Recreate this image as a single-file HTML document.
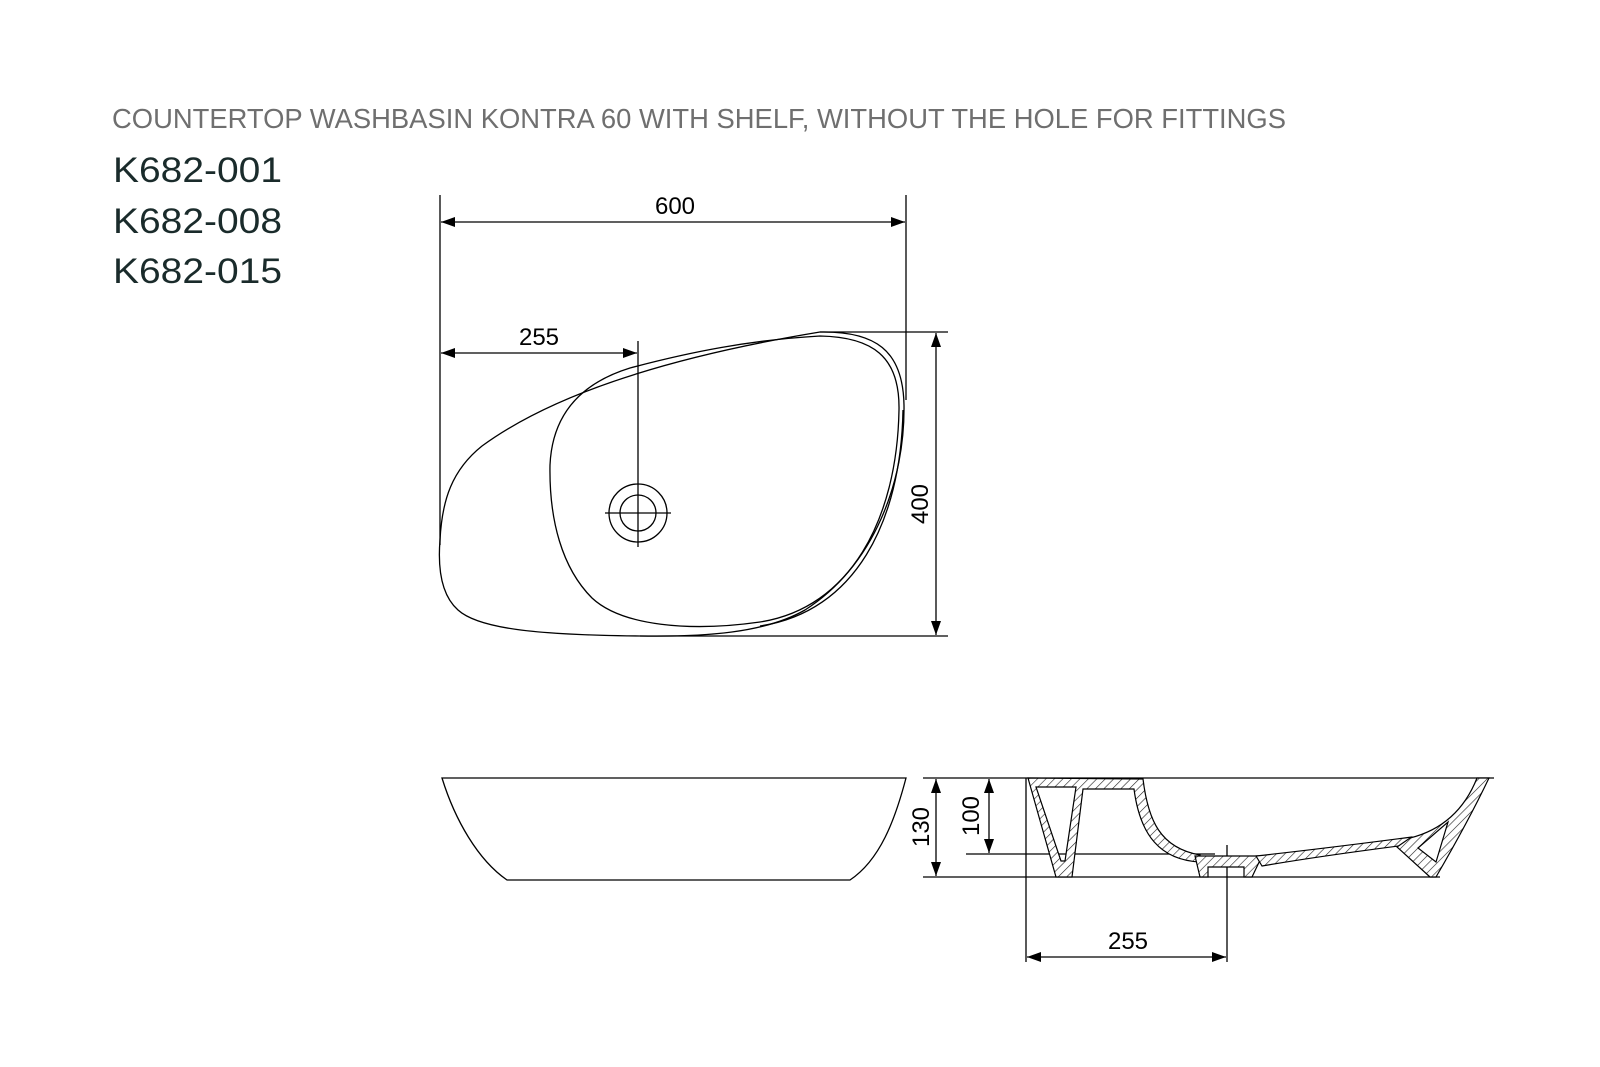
<!DOCTYPE html>
<html><head><meta charset="utf-8"><style>
html,body{margin:0;padding:0;background:#fff}
svg{display:block}
</style></head><body>
<svg width="1600" height="1067" viewBox="0 0 1600 1067" xmlns="http://www.w3.org/2000/svg">
<defs>
<pattern id="h" patternUnits="userSpaceOnUse" width="6" height="6" patternTransform="rotate(45)">
<rect width="6" height="6" fill="#fff"/><line x1="0" y1="0" x2="0" y2="6" stroke="#222" stroke-width="1.2"/>
</pattern>
<marker id="a" viewBox="0 0 14 10" refX="14" refY="5" markerWidth="14" markerHeight="10" markerUnits="userSpaceOnUse" orient="auto-start-reverse">
<path d="M0,0 L14,5 L0,10 Z" fill="#000"/></marker>
</defs>
<text x="112" y="128" font-family="Liberation Sans, sans-serif" font-size="28" fill="#6f6f6f" textLength="1174" lengthAdjust="spacingAndGlyphs">COUNTERTOP WASHBASIN KONTRA 60 WITH SHELF, WITHOUT THE HOLE FOR FITTINGS</text>
<g font-family="Liberation Sans, sans-serif" font-size="35" fill="#1a2b2b">
<text x="113" y="182" textLength="169" lengthAdjust="spacingAndGlyphs">K682-001</text>
<text x="113" y="233" textLength="169" lengthAdjust="spacingAndGlyphs">K682-008</text>
<text x="113" y="283" textLength="169" lengthAdjust="spacingAndGlyphs">K682-015</text>
</g>
<g stroke="#000" stroke-width="1.3" fill="none">
<line x1="440" y1="195" x2="440" y2="545"/>
<line x1="906" y1="195" x2="906" y2="400"/>
<line x1="441" y1="222" x2="905" y2="222" marker-start="url(#a)" marker-end="url(#a)"/>
<line x1="441" y1="353" x2="637" y2="353" marker-start="url(#a)" marker-end="url(#a)"/>
<line x1="638" y1="341" x2="638" y2="547"/>
<line x1="820" y1="332" x2="948" y2="332"/>
<line x1="640" y1="636" x2="948" y2="636"/>
<line x1="936" y1="333" x2="936" y2="635" marker-start="url(#a)" marker-end="url(#a)"/>
<path d="M820,332 C875,331 903,350 904,405 C905,480 875,565 805,610 C765,633 705,637 640,636 C545,635 480,630 458,610 C440,594 438,565 440,540 C442,500 452,470 482,446 C545,400 650,360 820,332 Z"/>
<path d="M630,368 C575,385 552,420 550,465 C549,520 562,568 592,598 C622,626 690,632 760,622 C850,608 897,520 899,410 C900,356 872,337 820,336 C750,340 690,352 630,368"/>
<path d="M760,626 C855,612 901,522 903,410"/>
<circle cx="638" cy="513" r="29"/>
<circle cx="638" cy="513" r="18"/>
<line x1="605" y1="513" x2="671" y2="513"/>
<path d="M442,778 L906,778 C895,820 880,860 850,880 L507,880 C478,860 455,820 442,778 Z"/>
<line x1="923" y1="778" x2="1494" y2="778"/>
<line x1="923" y1="877" x2="1440" y2="877"/>
<line x1="966" y1="854" x2="1215" y2="854"/>
<line x1="936" y1="779" x2="936" y2="876" marker-start="url(#a)" marker-end="url(#a)"/>
<line x1="989" y1="779" x2="989" y2="853" marker-start="url(#a)" marker-end="url(#a)"/>
<line x1="1026" y1="778" x2="1026" y2="962"/>
<line x1="1227" y1="845" x2="1227" y2="962"/>
<line x1="1027" y1="957" x2="1226" y2="957" marker-start="url(#a)" marker-end="url(#a)"/>
</g>
<g stroke="#000" stroke-width="1.2" fill="url(#h)" fill-rule="evenodd">
<path d="M1028,778 L1143,779 C1148,820 1160,848 1200,855 L1200,862 C1160,860 1140,835 1134,789 L1083,789 L1072,877 L1056,877 Z M1036,787 L1076,787 L1065,861 L1061,861 Z"/>
<path d="M1195,856 L1262,856 L1252,877 L1244,877 L1244,867 L1208,867 L1208,877 L1200,877 Z"/>
<path d="M1256,856 Q1320,849 1412,837 L1414,844 Q1320,856 1262,866 Z"/>
<path d="M1489,778 L1477,778 Q1458,826 1410,838 L1397,847 L1430,877 L1436,877 Q1468,822 1489,778 Z M1418,848 L1448,822 L1436,862 Z"/>
</g>
<g font-family="Liberation Sans, sans-serif" font-size="24" fill="#000" text-anchor="middle">
<text x="675" y="214">600</text>
<text x="539" y="345">255</text>
<text x="1128" y="949">255</text>
<text transform="translate(928,504) rotate(-90)">400</text>
<text transform="translate(929,827) rotate(-90)">130</text>
<text transform="translate(979,816) rotate(-90)">100</text>
</g>
</svg>
</body></html>
